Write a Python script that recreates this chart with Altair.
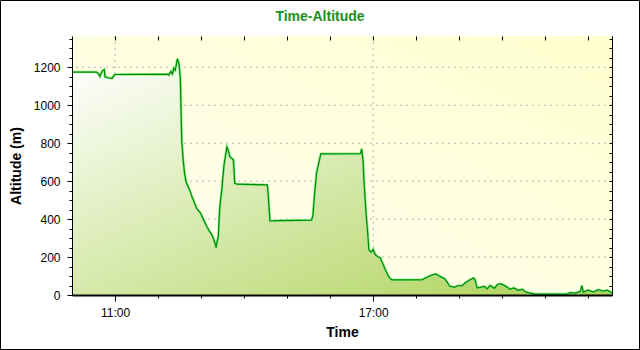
import altair as alt
import pandas as pd

times = ["10:00","10:34","10:36","10:39","10:42","10:45","10:46","10:50","10:56","10:59",
         "11:01","11:34","12:13","12:15","12:18","12:20","12:22","12:24","12:27","12:29",
         "12:31","12:32","12:33","12:35","12:37","12:39","12:42","12:45","12:47","12:52",
         "12:54","12:59","13:03","13:08","13:11","13:15","13:18","13:21","13:22","13:24",
         "13:26","13:29","13:32","13:36","13:38","13:40","13:45","13:47","13:50","14:32",
         "14:33","14:36","14:50","15:34","15:36","15:38","15:41","15:47","16:42","16:44",
         "16:46","16:47","16:50","16:52","16:54","16:57","17:00","17:03","17:07","17:10",
         "17:14","17:17","17:21","17:24","17:26","18:08","18:13","18:19","18:26","18:29",
         "18:33","18:40","18:43","18:47","18:54","18:59","19:04","19:08","19:15","19:20",
         "19:22","19:25","19:29","19:35","19:39","19:43","19:49","19:53","19:57","20:04",
         "20:11","20:16","20:22","20:28","20:33","20:39","20:46","21:30","21:35","21:42",
         "21:49","21:51","21:53","22:00","22:07","22:14","22:21","22:26","22:33"]
altitudes = [1175,1175,1170,1152,1180,1188,1150,1145,1142,1160,
             1162,1163,1163,1160,1178,1165,1195,1185,1245,1220,
             1150,990,817,712,640,598,570,545,520,475,
             455,433,400,361,340,317,290,250,275,308,
             458,560,686,780,760,729,712,589,584,580,
             560,390,392,395,420,519,642,744,745,770,
             703,607,432,344,238,225,240,212,200,195,
             160,133,100,86,80,80,90,100,110,108,
             98,85,68,45,42,50,48,63,80,89,
             80,37,40,45,32,50,35,54,60,48,
             30,37,25,30,15,10,5,5,12,10,
             18,50,15,25,15,28,20,25,12]

grid_hours = ["11:00", "17:00"]
grid_alts = [200, 400, 600, 800, 1000, 1200]

title_text = "Time-Altitude"
x_title = "Time"
y_title = "Altitude (m)"

df = pd.DataFrame({"t": ["2000-01-01T" + t + ":00Z" for t in times], "alt": altitudes})
gx = pd.DataFrame({"t": ["2000-01-01T" + t + ":00Z" for t in grid_hours]})
gy = pd.DataFrame({"alt": grid_alts})


def dt(h, m):
    return alt.DateTime(year=2000, month=1, date=1, hours=h, minutes=m, utc=True)


FONT = "Liberation Sans"
xscale = alt.Scale(type="utc", domain=[dt(10, 0), dt(22, 33)])
yscale = alt.Scale(domain=[0, 1365], nice=False, zero=True)
hour_vals = [dt(h, 0) for h in range(11, 23)]
y_vals = list(range(0, 1351, 50))
major_x = "utchours(datum.value) == 11 || utchours(datum.value) == 17"
major_y = "datum.value % 200 == 0"

x_bottom = alt.Axis(
    orient="bottom", values=hour_vals,
    labelExpr=f"({major_x}) ? utcFormat(datum.value, '%H:%M') : ''",
    tickSize={"condition": {"test": major_x, "value": 6}, "value": 3},
    tickColor="black", domainColor="black", domainWidth=2, grid=False,
    labelFont=FONT, labelFontSize=12, labelColor="black", labelPadding=6,
    title=x_title, titleFont=FONT, titleFontSize=14, titleFontWeight="bold",
    titleColor="black", titlePadding=7, zindex=1,
)
y_left = alt.Axis(
    orient="left", values=y_vals, format="d",
    labelExpr=f"({major_y}) ? datum.label : ''",
    tickSize={"condition": {"test": major_y, "value": 5}, "value": 3},
    tickColor="black", domainColor="black", grid=False,
    labelFont=FONT, labelFontSize=12, labelColor="black", labelPadding=7,
    title=y_title, titleFont=FONT, titleFontSize=14, titleFontWeight="bold",
    titleColor="black", titlePadding=10, zindex=1,
)
x_top = alt.Axis(
    orient="top", values=hour_vals, labels=False, domain=False, title=None,
    tickSize=4, offset=-4, tickColor="black", grid=False, zindex=1,
)
y_right = alt.Axis(
    orient="right", values=y_vals, labels=False, domain=False, title=None,
    tickSize=3, offset=-3, tickColor="black", grid=False, zindex=1,
)

area_grad = alt.LinearGradient(
    gradient="linear",
    stops=[alt.GradientStop(color="#ffffff", offset=0),
           alt.GradientStop(color="#acd255", offset=1)],
    x1=0, y1=0, x2=1, y2=1,
)
bg_grad = alt.LinearGradient(
    gradient="linear",
    stops=[alt.GradientStop(color="#fffff4", offset=0),
           alt.GradientStop(color="#ffffcf", offset=1)],
    x1=0, y1=1, x2=1, y2=0,
)

one = pd.DataFrame({"k": [0]})
bg = alt.Chart(one).mark_rect(color=bg_grad).encode(
    x=alt.value(0), x2=alt.value("width"), y=alt.value(0), y2=alt.value("height"),
)

gridx = alt.Chart(gx).mark_rule(color="#b4b4b4", strokeDash=[2, 4], strokeWidth=1).encode(
    x=alt.X("t:T", scale=xscale, axis=None),
)
gridy = alt.Chart(gy).mark_rule(color="#b4b4b4", strokeDash=[2, 4], strokeWidth=1).encode(
    y=alt.Y("alt:Q", scale=yscale, axis=None),
)

base = alt.Chart(df)
area = base.mark_area(color=area_grad).encode(
    x=alt.X("t:T", scale=xscale, axis=x_bottom),
    y=alt.Y("alt:Q", scale=yscale, axis=y_left),
)
light = base.mark_line(color="#8fea8f", strokeWidth=2.6).encode(
    x=alt.X("t:T", scale=xscale, axis=None),
    y=alt.Y("alt:Q", scale=yscale, axis=None),
)
dark = base.mark_line(color="#008a00", strokeWidth=1.2).encode(
    x=alt.X("t:T", scale=xscale, axis=None),
    y=alt.Y("alt:Q", scale=yscale, axis=None),
)
overlay = base.mark_line(strokeOpacity=0).encode(
    x=alt.X("t:T", scale=xscale, axis=x_top),
    y=alt.Y("alt:Q", scale=yscale, axis=y_right),
)
border = alt.Chart(one).mark_rect(
    filled=False, stroke="black", strokeWidth=1
).encode(
    x=alt.value(-71.5), x2=alt.value(567.5),
    y=alt.value(-35.5), y2=alt.value(313.5),
)

chart = alt.layer(bg, gridx, gridy, area, light, dark, overlay, border).resolve_axis(
    x="independent", y="independent"
).properties(
    width=540, height=259,
    padding={"left": 72, "top": 36, "right": 28, "bottom": 55},
    autosize=alt.AutoSizeParams(type="none"),
    title=alt.TitleParams(title_text, color="#1a901a", font=FONT, fontSize=14,
                          fontWeight="bold", anchor="middle", frame="group",
                          dx=-22, dy=24, offset=0),
    background="white",
).configure_view(stroke="black", strokeWidth=1)

chart.save("out.html", embed_options={"renderer": "svg", "actions": False})
